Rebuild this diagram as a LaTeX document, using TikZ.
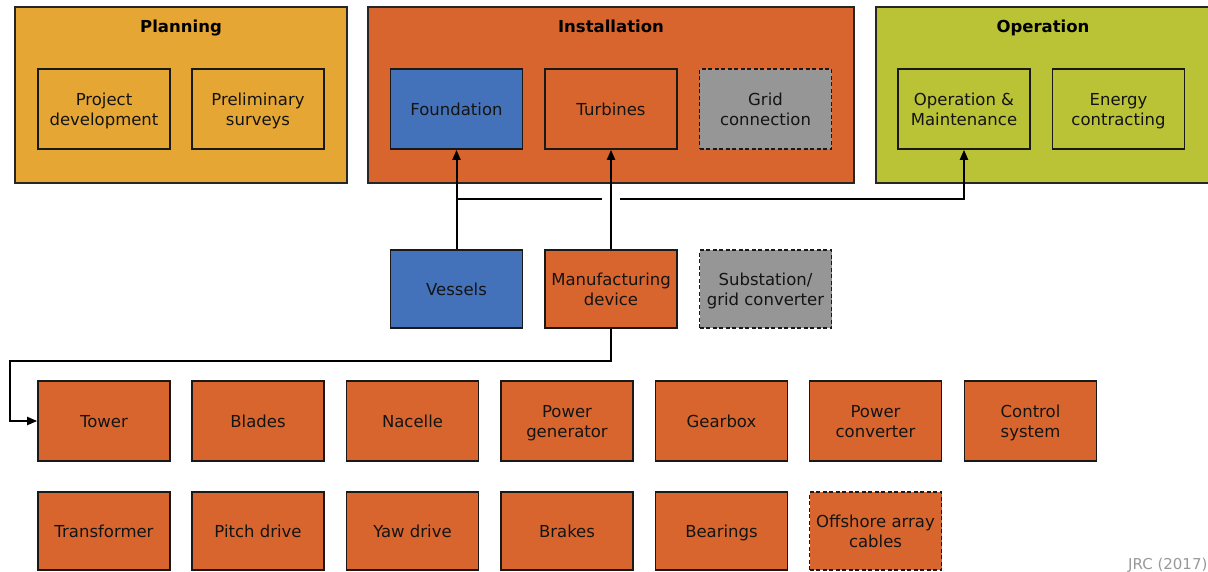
\documentclass[tikz,border=0pt]{standalone}
\usepackage{fontspec}
\setmainfont{DejaVu Sans}
\usetikzlibrary{arrows.meta}
\definecolor{planC}{RGB}{230,166,52}
\definecolor{instC}{RGB}{216,101,46}
\definecolor{operC}{RGB}{186,194,54}
\definecolor{blueC}{RGB}{68,114,186}
\definecolor{grayC}{RGB}{150,150,150}
\definecolor{txtC}{RGB}{20,20,20}
\newcommand{\mys}{\rule[-4pt]{0pt}{20pt}}
\tikzset{
  group/.style={draw=black!85, line width=1.6pt},
  box/.style={draw=black!90, line width=1.6pt, minimum width=132pt, minimum height=80pt,
    align=center, text=txtC, font=\fontsize{16.5}{20}\selectfont, inner sep=0pt},
  dbox/.style={box, dash pattern=on 4pt off 2.5pt},
  title/.style={font=\bfseries\fontsize{16.5}{20}\selectfont, text=black, anchor=base, inner sep=0pt},
  conn/.style={line width=2pt, draw=black, -{Triangle[length=10pt,width=8pt]}},
  plain/.style={line width=2pt, draw=black},
}
\begin{document}
\begin{tikzpicture}[x=1pt,y=-1pt]
\clip (0,0) rectangle (1208,571);
\fill[white] (0,0) rectangle (1208,571);
% groups
\draw[group, fill=planC] (15,7) rectangle (347,183);
\draw[group, fill=instC] (368,7) rectangle (854,183);
\draw[group, fill=operC] (876,7) rectangle (1214,183);
\node[title] (tplan) at (181,32) {Planning};
\node[title] (tinst) at (611,32) {Installation};
\node[title] (toper) at (1043,32) {Operation};
% row 1
\node[box, fill=planC] (proj) at (104,109) {\mys Project\\\mys development};
\node[box, fill=planC] (prelim) at (258,109) {\mys Preliminary\\\mys surveys};
\node[box, fill=blueC] (found) at (456.5,109) {\mys Foundation};
\node[box, fill=instC] (turb) at (611,109) {\mys Turbines};
\node[dbox, fill=grayC] (grid) at (765.5,109) {\mys Grid\\\mys connection};
\node[box, fill=operC] (om) at (964,109) {\mys Operation \&\\\mys Maintenance};
\node[box, fill=operC] (energy) at (1118.5,109) {\mys Energy\\\mys contracting};
% row 2
\node[box, fill=blueC, minimum height=78pt] (vessels) at (456.5,289) {\mys Vessels};
\node[box, fill=instC, minimum height=78pt] (manuf) at (611,289) {\mys Manufacturing\\\mys device};
\node[dbox, fill=grayC, minimum height=78pt] (subst) at (765.5,289) {\mys Substation/\\\mys grid converter};
% row 3
\node[box, fill=instC] (tower) at (104,421) {\mys Tower};
\node[box, fill=instC] (blades) at (258,421) {\mys Blades};
\node[box, fill=instC] (nacelle) at (412.5,421) {\mys Nacelle};
\node[box, fill=instC] (pgen) at (567,421) {\mys Power\\\mys generator};
\node[box, fill=instC] (gearbox) at (721.5,421) {\mys Gearbox};
\node[box, fill=instC] (pconv) at (875.5,421) {\mys Power\\\mys converter};
\node[box, fill=instC] (control) at (1030.5,421) {\mys Control\\\mys system};
% row 4
\node[box, fill=instC, minimum height=78pt] (transf) at (104,531) {\mys Transformer};
\node[box, fill=instC, minimum height=78pt] (pitch) at (258,531) {\mys Pitch drive};
\node[box, fill=instC, minimum height=78pt] (yaw) at (412.5,531) {\mys Yaw drive};
\node[box, fill=instC, minimum height=78pt] (brakes) at (567,531) {\mys Brakes};
\node[box, fill=instC, minimum height=78pt] (bearings) at (721.5,531) {\mys Bearings};
\node[dbox, fill=instC, minimum height=78pt] (cables) at (875.5,531) {\mys Offshore array\\\mys cables};
% connectors
\coordinate (gapL) at (602,199);
\coordinate (gapR) at (620,199);
\coordinate (bendA) at (10,361);
\draw[conn] (vessels.north) -- (found.south);
\draw[conn] (manuf.north) -- (turb.south);
\draw[plain] (vessels.north |- gapL) -- (gapL);
\draw[conn] (gapR) -| (om.south);
\draw[conn] (manuf.south) |- (bendA) |- (tower.west);
\node[anchor=base west, text=black!40, font=\fontsize{15}{17}\selectfont, inner sep=0pt] (jrc) at (1128,569) {JRC (2017)};
\end{tikzpicture}
\end{document}
